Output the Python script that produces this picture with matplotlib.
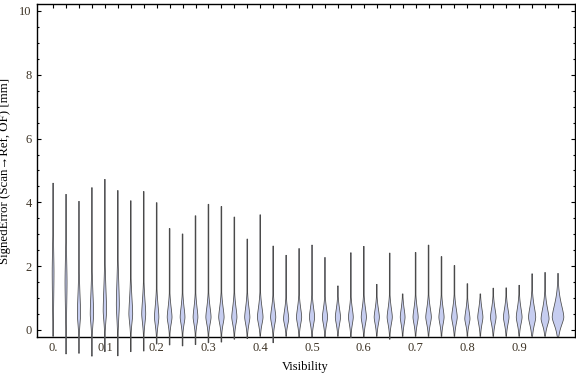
import numpy as np
import matplotlib
matplotlib.use('Agg')
from matplotlib import pyplot as plt

# visibility bins (centre of each violin)
visibility = [i * 0.025 for i in range(40)]

# top and bottom of each violin
v_max = [4.60, 4.25, 4.03, 4.46, 4.72, 4.37, 4.05, 4.34, 3.99, 3.18,
         3.01, 3.58, 3.94, 3.87, 3.54, 2.85, 3.61, 2.63, 2.34, 2.55,
         2.66, 2.27, 1.38, 2.42, 2.62, 1.43, 2.41, 1.13, 2.43, 2.66,
         2.30, 2.02, 1.45, 1.13, 1.31, 1.32, 1.40, 1.76, 1.80, 1.77]
v_min = [-0.20, -0.75, -0.73, -0.82, -0.68, -0.81, -0.68, -0.66, -0.44, -0.47,
         -0.50, -0.46, -0.40, -0.38, -0.29, -0.27, -0.20, -0.40, -0.20, -0.22,
         -0.22, -0.22, -0.20, -0.24, -0.22, -0.20, -0.29, -0.20, -0.20, -0.20,
         -0.20, -0.20, -0.20, -0.20, -0.20, -0.20, -0.20, -0.20, -0.20, -0.20]
# where the body is widest, its half width (pixels) and spread below / above
peak = [1.8, 1.5, 0.5, 0.5, 0.6, 0.8, 0.5, 0.5, 0.4, 0.4,
        0.4, 0.4, 0.4, 0.4, 0.4, 0.4, 0.4, 0.4, 0.35, 0.4,
        0.4, 0.4, 0.4, 0.4, 0.4, 0.4, 0.4, 0.4, 0.4, 0.4,
        0.4, 0.4, 0.35, 0.4, 0.4, 0.4, 0.4, 0.4, 0.35, 0.4]
half_w = [0.9, 1.0, 1.6, 1.7, 1.7, 1.5, 1.9, 2.0, 2.2, 2.4,
          2.4, 2.4, 2.6, 2.7, 2.6, 2.6, 2.8, 2.6, 2.6, 2.6,
          2.6, 2.6, 2.6, 2.4, 2.6, 2.6, 2.6, 2.4, 2.6, 2.8,
          2.6, 2.8, 2.6, 2.6, 2.8, 2.8, 2.9, 3.6, 4.0, 5.8]
spread_lo = [1.6, 1.4, 0.5, 0.5, 0.5, 0.7, 0.45, 0.45, 0.4, 0.35,
             0.35, 0.35, 0.35, 0.35, 0.35, 0.35, 0.35, 0.35, 0.3, 0.35,
             0.35, 0.35, 0.35, 0.35, 0.35, 0.35, 0.35, 0.35, 0.35, 0.35,
             0.35, 0.35, 0.3, 0.35, 0.35, 0.35, 0.35, 0.38, 0.32, 0.4]
spread_hi = [1.2, 1.2, 1.0, 1.0, 1.1, 1.1, 0.8, 0.7, 0.6, 0.5,
             0.5, 0.5, 0.5, 0.5, 0.5, 0.5, 0.5, 0.45, 0.42, 0.45,
             0.45, 0.42, 0.42, 0.42, 0.45, 0.42, 0.45, 0.42, 0.45, 0.45,
             0.45, 0.45, 0.42, 0.42, 0.42, 0.42, 0.45, 0.5, 0.5, 0.6]

x_ticks = [0.0, 0.1, 0.2, 0.3, 0.4, 0.5, 0.6, 0.7, 0.8, 0.9]
x_tick_labels = ['0.', '0.1', '0.2', '0.3', '0.4', '0.5', '0.6', '0.7', '0.8', '0.9']

fig = plt.figure(figsize=(5.76, 3.77), dpi=100)
ax = fig.add_axes([0.0634, 0.1053, 0.9346, 0.8833])
ax.set_xlim(-0.032, 1.0075)
ax.set_ylim(-0.23, 10.21)

px = (1.0075 + 0.032) / (0.9346 * 576)  # data units per pixel in x

for i, x in enumerate(visibility):
    y = np.linspace(v_min[i], v_max[i], 400)
    d = y - peak[i]
    s = np.where(d < 0, spread_lo[i], spread_hi[i])
    w = half_w[i] * np.exp(-(np.abs(d) / s) ** 1.6)
    w = np.maximum(w, 0.35) * px
    xs = np.concatenate([x - w, (x + w)[::-1]])
    ys = np.concatenate([y, y[::-1]])
    ax.fill(xs, ys, facecolor='#c6cdf0', edgecolor='#4a4a4a',
            linewidth=0.55, clip_on=False, zorder=3)

label_color = '#3d3325'
ax.set_xticks(x_ticks)
ax.set_xticklabels(x_tick_labels)
ax.set_xticks(visibility, minor=True)
ax.set_yticks([0, 2, 4, 6, 8, 10])
ax.set_yticks(np.arange(0, 10.01, 0.5), minor=True)
ax.tick_params(which='both', direction='in', top=True, right=True,
               color='black', labelcolor=label_color, labelsize=9,
               labelfontfamily='Liberation Serif')
ax.tick_params(which='major', length=3.0, width=0.8, pad=3.5)
ax.tick_params(which='minor', length=1.7, width=0.8)
ax.tick_params(axis='x', which='both', bottom=False, length=3.0)
for sp in ax.spines.values():
    sp.set_linewidth(1.0)

ax.set_xlabel('Visibility', fontsize=9, family='Liberation Serif', labelpad=5)
ax.set_ylabel('SignedError (Scan\u2192Ref, OF) [mm]', fontsize=9.3,
              family=['Liberation Serif', 'DejaVu Sans'], labelpad=6)

fig.savefig('out.png', dpi=100)
